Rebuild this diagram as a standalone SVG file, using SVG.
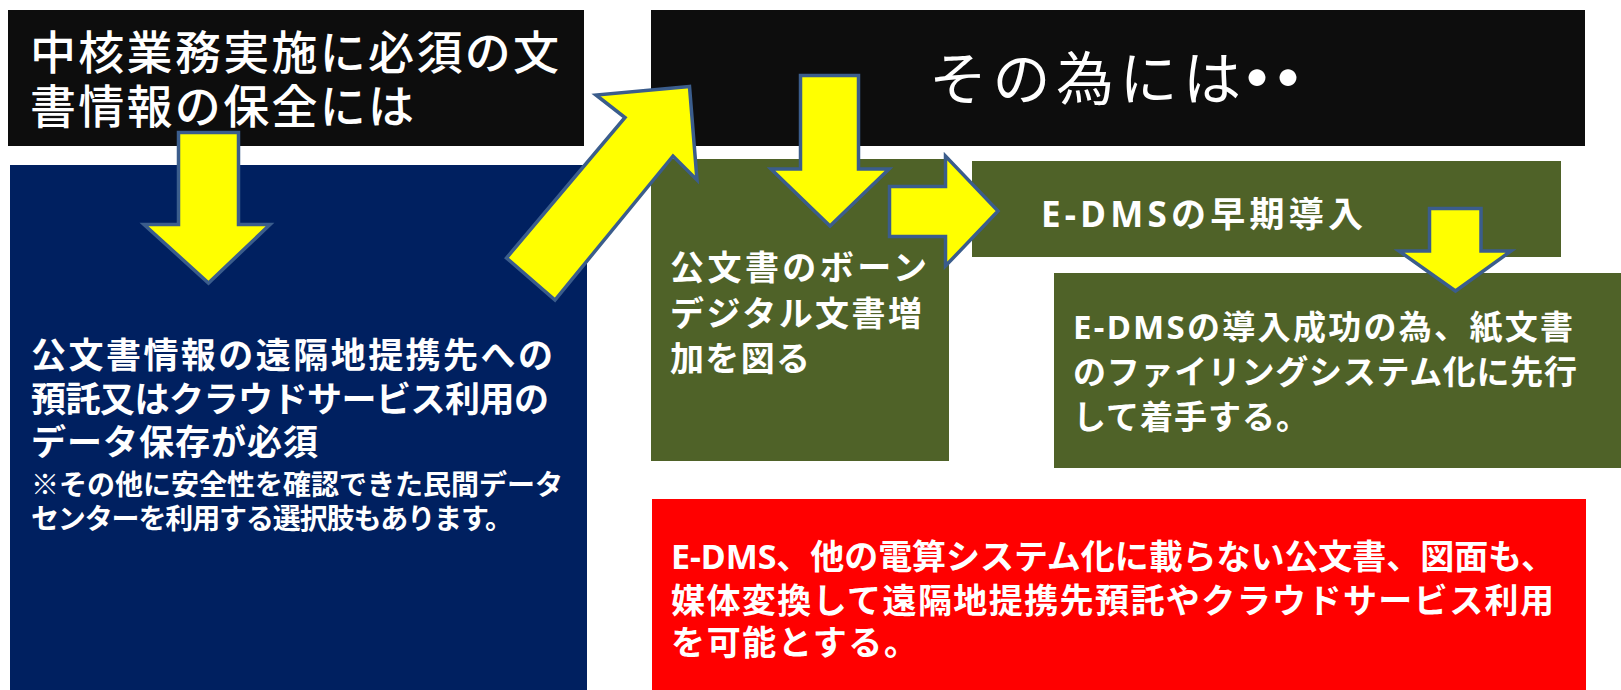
<svg xmlns="http://www.w3.org/2000/svg" width="1621" height="690" viewBox="0 0 1621 690">
<style>
.t{font-family:"Noto Sans CJK JP","Noto Sans CJK SC",sans-serif;fill:#ffffff}
.b{font-weight:bold}
.m{font-weight:500}
.lat{font-family:"Noto Sans","Open Sans",sans-serif;font-weight:bold}
.arrow{fill:#ffff00;stroke:#3b5d8c;stroke-width:3.5;stroke-linejoin:miter}
</style>
<rect width="1621" height="690" fill="#ffffff"/>
<g id="node-top-left">
<rect x="8" y="10" width="576" height="136" fill="#0d0d0d"/>
<text class="t m" font-size="46" x="30" y="69" textLength="529" lengthAdjust="spacing">中核業務実施に必須の文</text>
<text class="t m" font-size="46" x="30" y="123" textLength="384" lengthAdjust="spacing">書情報の保全には</text>
</g>
<g id="node-blue">
<rect x="10" y="165" width="577" height="525" fill="#002060"/>
<text class="t b" font-size="35" x="31" y="368" textLength="522" lengthAdjust="spacing">公文書情報の遠隔地提携先への</text>
<text class="t b" font-size="35" x="31" y="412" textLength="518" lengthAdjust="spacing">預託又はクラウドサービス利用の</text>
<text class="t b" font-size="35" x="31" y="455" textLength="287" lengthAdjust="spacing">データ保存が必須</text>
<text class="t b" font-size="28" x="31" y="495" textLength="532" lengthAdjust="spacing">※その他に安全性を確認できた民間データ</text>
<text class="t b" font-size="28" x="31" y="529" textLength="482" lengthAdjust="spacing">センターを利用する選択肢もあります。</text>
</g>
<g id="node-top-right">
<rect x="651" y="10" width="934" height="136" fill="#0d0d0d"/>
<text class="t" font-size="58" x="929 992.5 1056 1119.5 1183" y="100">その為には<tspan font-weight="900" font-size="60" x="1227 1258" y="101">・・</tspan></text>
</g>
<g id="node-born-digital">
<rect x="651" y="159" width="298" height="302" fill="#4f6228"/>
<text class="t b" font-size="34" x="670" y="280" textLength="257" lengthAdjust="spacing">公文書のボーン</text>
<text class="t b" font-size="34" x="670" y="326" textLength="252" lengthAdjust="spacing">デジタル文書増</text>
<text class="t b" font-size="34" x="670" y="371" textLength="140" lengthAdjust="spacing">加を図る</text>
</g>
<g id="node-edms-early">
<rect x="972" y="161" width="589" height="96" fill="#4f6228"/>
<text class="t b" font-size="35" x="1041" y="227" textLength="322" lengthAdjust="spacing"><tspan class="lat">E-DMS</tspan>の早期導入</text>
</g>
<g id="node-filing">
<rect x="1054" y="273" width="567" height="195" fill="#4f6228"/>
<text class="t b" font-size="33" x="1073" y="339" textLength="500" lengthAdjust="spacing"><tspan class="lat">E-DMS</tspan>の導入成功の為、紙文書</text>
<text class="t b" font-size="33" x="1073" y="384" textLength="504" lengthAdjust="spacing">のファイリングシステム化に先行</text>
<text class="t b" font-size="33" x="1073" y="429" textLength="236" lengthAdjust="spacing">して着手する。</text>
</g>
<g id="node-red">
<rect x="652" y="499" width="934" height="191" fill="#ff0000"/>
<text class="t b" font-size="34" x="671" y="569" textLength="884" lengthAdjust="spacing"><tspan class="lat">E-DMS</tspan>、他の電算システム化に載らない公文書、図面も、</text>
<text class="t b" font-size="34" x="671" y="613" textLength="883" lengthAdjust="spacing">媒体変換して遠隔地提携先預託やクラウドサービス利用</text>
<text class="t b" font-size="34" x="671" y="655" textLength="247" lengthAdjust="spacing">を可能とする。</text>
</g>
<g id="connectors">
<path class="arrow" d="M178.5,132.5 H238.5 V224.5 H270 L208.5,283 L144,224.5 H178.5 Z"/>
<path class="arrow" d="M689.5,86.5 L596,95 L625,117.5 L506.5,258 L555,300 L673,156 L697,180 Z"/>
<path class="arrow" d="M800.5,75.5 H858.5 V169 H889 L830,226 L771,169 H800.5 Z"/>
<path class="arrow" d="M889.5,186.5 H945.5 V156 L998,211 L945.5,266 V236.5 H889.5 Z"/>
<path class="arrow" d="M1429.5,208.5 H1481 V251 H1511 L1455.5,291 L1399,251 H1429.5 Z"/>
</g>
</svg>
